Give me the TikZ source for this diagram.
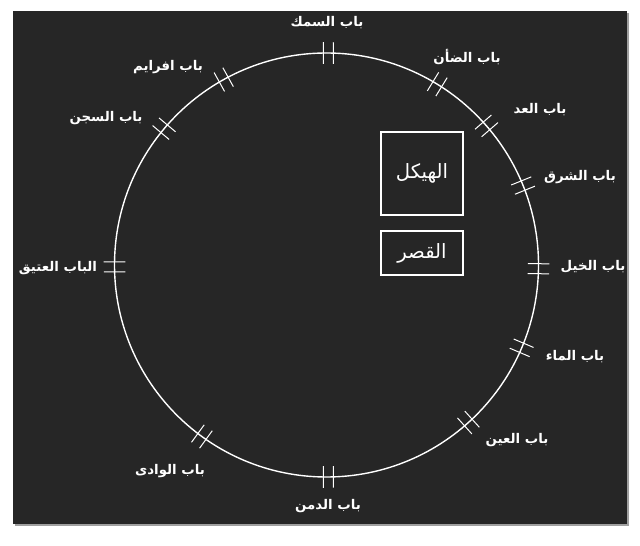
\documentclass[tikz,border=0pt]{standalone}
\usepackage{fontspec}
\newfontfamily\arabicfont[Script=Arabic]{DejaVu Sans}
\TeXXeTstate=1
\definecolor{boardgray}{HTML}{262626}
\definecolor{shadowgray}{HTML}{A0A0A0}
\tikzset{
  gatelabel/.style={text=white, inner sep=0pt, font=\arabicfont\bfseries\fontsize{9.5}{11}\selectfont},
  buildingbox/.style={draw=white, line width=0.03cm, text=white, inner sep=0pt, font=\arabicfont\fontsize{14}{16}\selectfont},
  gatetick/.style={draw=white, line width=0.025cm}
}
\begin{document}
\begin{tikzpicture}
\useasboundingbox (0.000000,0.000000) rectangle (16.000000,13.625000);

% Drawing board
\fill [shadowgray] (0.375000,0.475000) rectangle (15.725000,13.300000);%
\fill [boardgray] (0.325000,0.525000) rectangle (15.675000,13.350000);%

% Drawing city wall
\coordinate (c) at (8.162500,7.000000);
\draw [white, line width=0.035cm] (c) circle (5.300000);%

% Marking gates by double ticks
\begin{scope}[shift={(c)}, rotate=89.5]
\draw [gatetick] (5.030000,-0.125000) -- (5.570000,-0.125000);%
\draw [gatetick] (5.030000,0.125000) -- (5.570000,0.125000);%
\end{scope}
\begin{scope}[shift={(c)}, rotate=58.5]
\draw [gatetick] (5.030000,-0.125000) -- (5.570000,-0.125000);%
\draw [gatetick] (5.030000,0.125000) -- (5.570000,0.125000);%
\end{scope}
\begin{scope}[shift={(c)}, rotate=41]
\draw [gatetick] (5.030000,-0.125000) -- (5.570000,-0.125000);%
\draw [gatetick] (5.030000,0.125000) -- (5.570000,0.125000);%
\end{scope}
\begin{scope}[shift={(c)}, rotate=22]
\draw [gatetick] (5.030000,-0.125000) -- (5.570000,-0.125000);%
\draw [gatetick] (5.030000,0.125000) -- (5.570000,0.125000);%
\end{scope}
\begin{scope}[shift={(c)}, rotate=-1]
\draw [gatetick] (5.030000,-0.125000) -- (5.570000,-0.125000);%
\draw [gatetick] (5.030000,0.125000) -- (5.570000,0.125000);%
\end{scope}
\begin{scope}[shift={(c)}, rotate=-23]
\draw [gatetick] (5.030000,-0.125000) -- (5.570000,-0.125000);%
\draw [gatetick] (5.030000,0.125000) -- (5.570000,0.125000);%
\end{scope}
\begin{scope}[shift={(c)}, rotate=-48]
\draw [gatetick] (5.030000,-0.125000) -- (5.570000,-0.125000);%
\draw [gatetick] (5.030000,0.125000) -- (5.570000,0.125000);%
\end{scope}
\begin{scope}[shift={(c)}, rotate=-89.5]
\draw [gatetick] (5.030000,-0.125000) -- (5.570000,-0.125000);%
\draw [gatetick] (5.030000,0.125000) -- (5.570000,0.125000);%
\end{scope}
\begin{scope}[shift={(c)}, rotate=234]
\draw [gatetick] (5.030000,-0.125000) -- (5.570000,-0.125000);%
\draw [gatetick] (5.030000,0.125000) -- (5.570000,0.125000);%
\end{scope}
\begin{scope}[shift={(c)}, rotate=180.5]
\draw [gatetick] (5.030000,-0.125000) -- (5.570000,-0.125000);%
\draw [gatetick] (5.030000,0.125000) -- (5.570000,0.125000);%
\end{scope}
\begin{scope}[shift={(c)}, rotate=140]
\draw [gatetick] (5.030000,-0.125000) -- (5.570000,-0.125000);%
\draw [gatetick] (5.030000,0.125000) -- (5.570000,0.125000);%
\end{scope}
\begin{scope}[shift={(c)}, rotate=119]
\draw [gatetick] (5.030000,-0.125000) -- (5.570000,-0.125000);%
\draw [gatetick] (5.030000,0.125000) -- (5.570000,0.125000);%
\end{scope}

% Marking gate names
\node [gatelabel] (samak) at (8.175000,13.050000) {\beginR باب السمك\endR};%
\node [gatelabel] (daan) at (11.675000,12.200000) {\beginR باب الضأن\endR};%
\node [gatelabel] (add) at (13.500000,10.875000) {\beginR باب العد\endR};%
\node [gatelabel] (sharq) at (14.500000,9.200000) {\beginR باب الشرق\endR};%
\node [gatelabel] (khail) at (14.825000,6.950000) {\beginR باب الخيل\endR};%
\node [gatelabel] (maa) at (14.375000,4.700000) {\beginR باب الماء\endR};%
\node [gatelabel] (ain) at (12.925000,2.625000) {\beginR باب العين\endR};%
\node [gatelabel] (dimn) at (8.200000,0.975000) {\beginR باب الدمن\endR};%
\node [gatelabel] (wadi) at (4.250000,1.850000) {\beginR باب الوادى\endR};%
\node [gatelabel] (atiq) at (1.450000,6.925000) {\beginR الباب العتيق\endR};%
\node [gatelabel] (sijn) at (2.650000,10.675000) {\beginR باب السجن\endR};%
\node [gatelabel] (ifraim) at (4.200000,11.950000) {\beginR باب افرايم\endR};%

% Drawing temple and palace
\node [buildingbox, minimum width=2.050000cm, minimum height=2.075000cm] (haikal) at (10.550000,9.287500) {\beginR الهيكل\endR};%
\node [buildingbox, minimum width=2.050000cm, minimum height=1.100000cm] (qasr) at (10.550000,7.300000) {\beginR القصر\endR};%
\end{tikzpicture}
\end{document}
